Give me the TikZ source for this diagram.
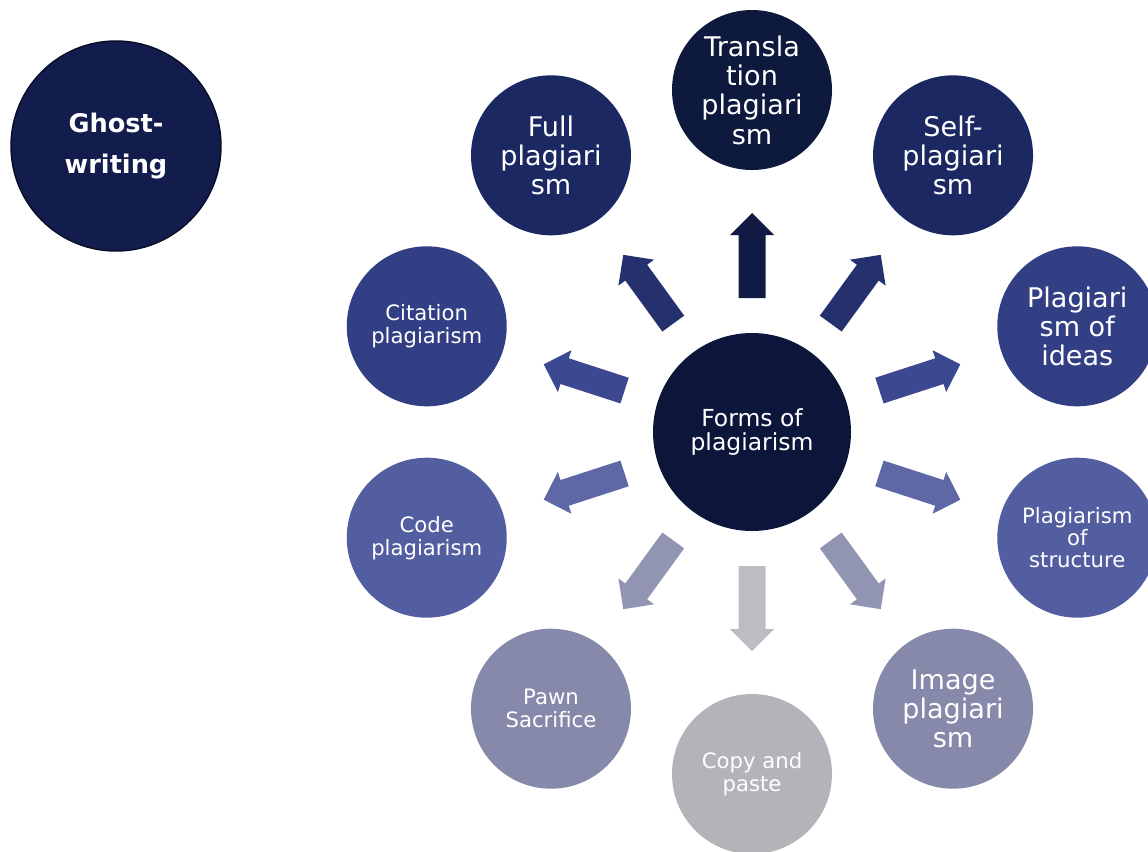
\documentclass[tikz,border=0pt]{standalone}
\usepackage{fontspec}
\setmainfont{DejaVu Sans}
\usetikzlibrary{calc}
\definecolor{cCenter}{RGB}{12,22,58}
\definecolor{cTrans}{RGB}{14,25,62}
\definecolor{cLev1}{RGB}{28,40,98}
\definecolor{cLev2}{RGB}{51,63,133}
\definecolor{cLev3}{RGB}{82,94,159}
\definecolor{cLev4}{RGB}{135,137,170}
\definecolor{cLev5}{RGB}{179,180,185}
\definecolor{cGhost}{RGB}{18,29,78}
\definecolor{cGhostLine}{RGB}{8,14,40}
\definecolor{aTrans}{RGB}{17,26,69}
\definecolor{aLev1}{RGB}{37,48,110}
\definecolor{aLev2}{RGB}{60,72,143}
\definecolor{aLev3}{RGB}{95,104,166}
\definecolor{aLev4}{RGB}{146,149,178}
\definecolor{aLev5}{RGB}{188,189,194}
\newcommand\blockarr[2]{%
  \begin{scope}[shift={(C.center)}, rotate=#1]
    \fill[#2] (134,-13.5) -- (197,-13.5) -- (197,-22) -- (219,0) -- (197,22) -- (197,13.5) -- (134,13.5) -- cycle;
  \end{scope}}
\begin{document}
\begin{tikzpicture}[x=0.75pt,y=0.75pt,
  bubble/.style={circle, inner sep=0pt, minimum size=120pt, text=white, align=center},
  bigtxt/.style={font=\fontsize{20.3pt}{22pt}\selectfont},
  midtxt/.style={font=\fontsize{15.9pt}{17.3pt}\selectfont},
]
\useasboundingbox (0,0) rectangle (1148,-851);
\fill[white] (0,0) rectangle (1148,-851);

\node[bubble, minimum size=148.5pt, fill=cCenter, font=\fontsize{17.6pt}{18pt}\selectfont] (C) at (752,-432) {Forms of\\plagiarism};

\node[bubble, bigtxt, fill=cTrans] (T) at ($(C)+(90:342)$) {Transla\\tion\\plagiari\\sm};
\node[bubble, bigtxt, fill=cLev1] (F) at ($(C)+(126:342)$) {Full\\plagiari\\sm};
\node[bubble, bigtxt, fill=cLev1] (S) at ($(C)+(54:342)$) {Self-\\plagiari\\sm};
\node[bubble, midtxt, fill=cLev2] (Ci) at ($(C)+(162:342)$) {Citation\\plagiarism};
\node[bubble, bigtxt, fill=cLev2] (I) at ($(C)+(18:342)$) {Plagiari\\sm of\\ideas};
\node[bubble, midtxt, fill=cLev3] (Co) at ($(C)+(198:342)$) {Code\\plagiarism};
\node[bubble, fill=cLev3, font=\fontsize{15.9pt}{16.5pt}\selectfont] (St) at ($(C)+(342:342)$) {Plagiarism\\of\\structure};
\node[bubble, midtxt, fill=cLev4] (P) at ($(C)+(234:342)$) {Pawn\\Sacrifice};
\node[bubble, bigtxt, fill=cLev4] (Im) at ($(C)+(306:342)$) {Image\\plagiari\\sm};
\node[bubble, midtxt, fill=cLev5] (Cp) at ($(C)+(270:342)$) {Copy and\\paste};

\node[bubble, minimum size=157.5pt, fill=cGhost, draw=cGhostLine, line width=1.1pt,
      font=\bfseries\fontsize{19.2pt}{30.5pt}\selectfont] (G) at (116,-146) {Ghost-\\writing};

\blockarr{90}{aTrans}
\blockarr{126}{aLev1}
\blockarr{54}{aLev1}
\blockarr{162}{aLev2}
\blockarr{18}{aLev2}
\blockarr{198}{aLev3}
\blockarr{342}{aLev3}
\blockarr{234}{aLev4}
\blockarr{306}{aLev4}
\blockarr{270}{aLev5}
\end{tikzpicture}
\end{document}
